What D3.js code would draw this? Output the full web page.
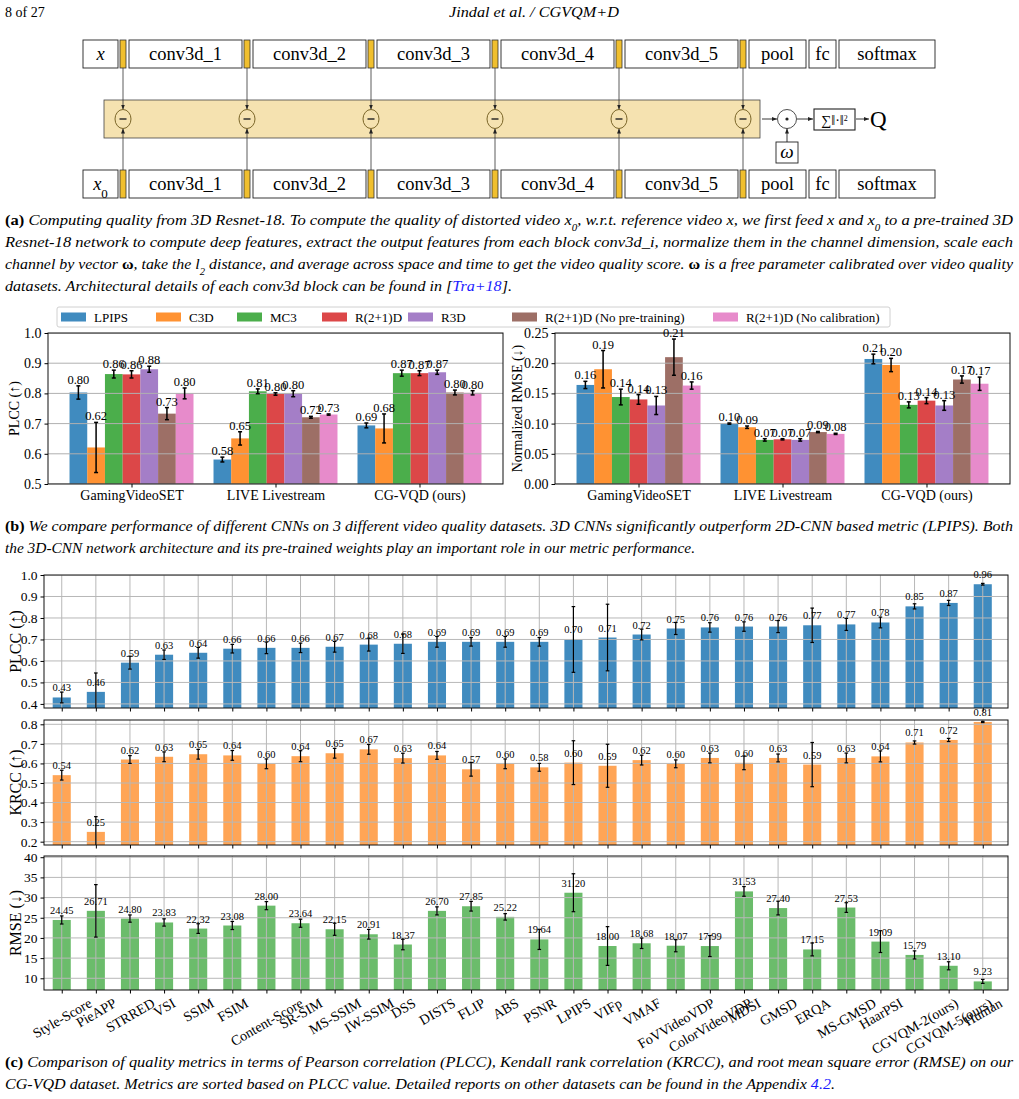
<!DOCTYPE html>
<html>
<head>
<meta charset="utf-8">
<script src="https://cdn.jsdelivr.net/npm/d3@7"></script>
<style>
  body { margin: 0; background: #fff; }
  svg { display: block; }
  text { font-family: "Liberation Serif", "Times New Roman", serif; fill: #000; }
</style>
</head>
<body>
<svg id="fig" width="1019" height="1099"></svg>
<script>
// ---- data: panel (a) diagram ----
const layerNames = ["x", "conv3d_1", "conv3d_2", "conv3d_3", "conv3d_4", "conv3d_5", "pool", "fc", "softmax"];

// ---- data: panel (b) ----
const models = ["LPIPS", "C3D", "MC3", "R(2+1)D", "R3D", "R(2+1)D (No pre-training)", "R(2+1)D (No calibration)"];
const datasets = ["GamingVideoSET", "LIVE Livestream", "CG-VQD (ours)"];
// rows = datasets, columns = models
const bPlcc = [
  [0.803, 0.621, 0.864, 0.863, 0.880, 0.733, 0.800],
  [0.581, 0.651, 0.807, 0.798, 0.799, 0.721, 0.730],
  [0.694, 0.684, 0.867, 0.867, 0.870, 0.803, 0.802]
];
const bPlccErr = [
  [0.022, 0.083, 0.013, 0.012, 0.010, 0.020, 0.018],
  [0.008, 0.022, 0.008, 0.004, 0.010, 0.003, 0.002],
  [0.008, 0.048, 0.010, 0.008, 0.007, 0.008, 0.007]
];
const bRmse = [
  [0.164, 0.190, 0.144, 0.140, 0.130, 0.210, 0.163],
  [0.100, 0.094, 0.073, 0.074, 0.073, 0.086, 0.083],
  [0.207, 0.197, 0.131, 0.138, 0.130, 0.173, 0.166]
];
const bRmseErr = [
  [0.006, 0.031, 0.013, 0.008, 0.015, 0.030, 0.006],
  [0.001, 0.002, 0.002, 0.001, 0.002, 0.001, 0.001],
  [0.008, 0.011, 0.005, 0.005, 0.008, 0.006, 0.011]
];
const bPlccTicks = [0.5, 0.6, 0.7, 0.8, 0.9, 1.0];
const bRmseTicks = [0.00, 0.05, 0.10, 0.15, 0.20, 0.25];

// ---- data: panel (c) ----
const metrics = ["Style-Score", "PieAPP", "STRRED", "VSI", "SSIM", "FSIM", "Content-Score", "SR-SIM", "MS-SSIM",
  "IW-SSIM", "DSS", "DISTS", "FLIP", "ABS", "PSNR", "LPIPS", "VIFp", "VMAF", "FoVVideoVDP", "ColorVideoVDP",
  "MDSI", "GMSD", "ERQA", "MS-GMSD", "HaarPSI", "CGVQM-2(ours)", "CGVQM-5(ours)", "Human"];
const plcc = [0.430, 0.456, 0.592, 0.629, 0.638, 0.657, 0.661, 0.661, 0.666, 0.676, 0.680, 0.689, 0.689, 0.689,
  0.689, 0.700, 0.709, 0.723, 0.751, 0.756, 0.760, 0.760, 0.766, 0.770, 0.779, 0.854, 0.870, 0.957];
const plccErr = [0.025, 0.088, 0.030, 0.022, 0.025, 0.020, 0.027, 0.022, 0.025, 0.030, 0.045, 0.025, 0.020, 0.025,
  0.020, 0.153, 0.155, 0.025, 0.028, 0.022, 0.022, 0.028, 0.080, 0.028, 0.025, 0.012, 0.012, 0.004];
const krcc = [0.540, 0.250, 0.620, 0.634, 0.647, 0.641, 0.598, 0.637, 0.652, 0.672, 0.627, 0.641, 0.570, 0.598,
  0.580, 0.604, 0.588, 0.617, 0.598, 0.628, 0.603, 0.628, 0.594, 0.628, 0.636, 0.707, 0.720, 0.812];
const krccErr = [0.025, 0.078, 0.020, 0.025, 0.025, 0.025, 0.025, 0.028, 0.025, 0.025, 0.025, 0.020, 0.035, 0.025,
  0.020, 0.112, 0.110, 0.025, 0.020, 0.025, 0.035, 0.020, 0.113, 0.025, 0.028, 0.008, 0.008, 0.003];
const rmse = [24.45, 26.71, 24.80, 23.83, 22.32, 23.08, 28.00, 23.64, 22.15, 20.91, 18.37, 26.70, 27.85, 25.22,
  19.64, 31.20, 18.00, 18.68, 18.07, 17.99, 31.53, 27.40, 17.15, 27.53, 19.09, 15.79, 13.10, 9.23];
const rmseErr = [1.0, 6.5, 0.9, 0.9, 1.2, 1.0, 1.0, 1.0, 1.5, 1.2, 1.3, 1.0, 1.2, 0.8,
  2.5, 4.7, 4.8, 1.3, 1.5, 2.6, 1.2, 1.7, 1.6, 1.2, 2.7, 1.0, 1.0, 0.5];
const plccTicks = [0.4, 0.5, 0.6, 0.7, 0.8, 0.9, 1.0];
const krccTicks = [0.2, 0.3, 0.4, 0.5, 0.6, 0.7, 0.8];
const rmseTicks = [10, 15, 20, 25, 30, 35, 40];

const tab10 = ["#1f77b4", "#ff7f0e", "#2ca02c", "#d62728", "#9467bd", "#8c564b", "#e377c2"];

const svg = d3.select("#fig");
const defs = svg.append("defs");
defs.append("marker").attr("id", "arr")
  .attr("viewBox", "0 0 10 10").attr("refX", 10).attr("refY", 5)
  .attr("markerUnits", "userSpaceOnUse").attr("markerWidth", 5).attr("markerHeight", 5)
  .attr("orient", "auto")
  .append("path").attr("d", "M0,1L10,5L0,9z").attr("fill", "#222");

// header
svg.append("text").attr("x", 5).attr("y", 17).style("font-size", "14px").text("8 of 27");
svg.append("text").attr("x", 449).attr("y", 17).style("font-size", "14px").style("font-style", "italic")
  .attr("textLength", 170).attr("lengthAdjust", "spacingAndGlyphs").text("Jindal et al. / CGVQM+D");

// ---- panel (a): network diagram ----
const layerW = [35, 113, 113, 113, 113, 113, 57, 27, 96];
const rowTops = [40, 170];
const boxH = 28;
const bandTop = 100, bandBot = 138, midY = 119;
let tapX = [];

svg.append("rect").attr("x", 104).attr("y", bandTop).attr("width", 656).attr("height", bandBot - bandTop)
  .attr("fill", "#f5e2b0").attr("stroke", "#444").attr("stroke-width", 0.8);

rowTops.forEach((top, r) => {
  let pos = 83;
  const taps = [];
  layerNames.forEach((name, i) => {
    const w = layerW[i];
    svg.append("rect").attr("x", pos).attr("y", top).attr("width", w).attr("height", boxH)
      .attr("fill", "#fff").attr("stroke", "#222").attr("stroke-width", 0.9);
    const t = svg.append("text").attr("x", pos + w / 2).attr("y", top + boxH / 2 + 6)
      .attr("text-anchor", "middle").style("font-size", "18.5px");
    if (name === "x") {
      t.append("tspan").style("font-style", "italic").text("x");
      if (r === 1) t.append("tspan").attr("baseline-shift", "sub").style("font-size", "13px").text("0");
    } else {
      t.text(name);
    }
    pos += w;
    if (i < 6) {
      pos += 2;
      svg.append("rect").attr("x", pos).attr("y", top).attr("width", 6).attr("height", boxH)
        .attr("fill", "#f0bf2e").attr("stroke", "#333").attr("stroke-width", 0.8);
      taps.push(pos + 3);
      pos += 9;
    } else {
      pos += 3;
    }
  });
  tapX = taps;
});

tapX.forEach(cx => {
  svg.append("line").attr("x1", cx).attr("x2", cx).attr("y1", rowTops[0] + boxH).attr("y2", midY - 9.5)
    .attr("stroke", "#333").attr("stroke-width", 0.8).attr("marker-end", "url(#arr)");
  svg.append("line").attr("x1", cx).attr("x2", cx).attr("y1", rowTops[1]).attr("y2", midY + 9.5)
    .attr("stroke", "#333").attr("stroke-width", 0.8).attr("marker-end", "url(#arr)");
  svg.append("ellipse").attr("cx", cx).attr("cy", midY).attr("rx", 8).attr("ry", 9.5)
    .attr("fill", "#f5e2b0").attr("stroke", "#7a6528").attr("stroke-width", 1);
  svg.append("line").attr("x1", cx - 3.5).attr("x2", cx + 3.5).attr("y1", midY).attr("y2", midY)
    .attr("stroke", "#222").attr("stroke-width", 1.4);
});

// weighting and aggregation
svg.append("line").attr("x1", 762).attr("x2", 777).attr("y1", midY).attr("y2", midY)
  .attr("stroke", "#222").attr("stroke-width", 0.9).attr("marker-end", "url(#arr)");
svg.append("circle").attr("cx", 787).attr("cy", midY).attr("r", 9.5)
  .attr("fill", "#fff").attr("stroke", "#222").attr("stroke-width", 0.8);
svg.append("circle").attr("cx", 787).attr("cy", midY).attr("r", 1.6).attr("fill", "#222");
svg.append("rect").attr("x", 776).attr("y", 142).attr("width", 22).attr("height", 21)
  .attr("fill", "#fff").attr("stroke", "#222").attr("stroke-width", 0.9);
svg.append("text").attr("x", 787).attr("y", 158).attr("text-anchor", "middle")
  .style("font-size", "19px").style("font-style", "italic").text("ω");
svg.append("line").attr("x1", 787).attr("x2", 787).attr("y1", 142).attr("y2", midY + 9.5)
  .attr("stroke", "#222").attr("stroke-width", 0.9).attr("marker-end", "url(#arr)");
svg.append("line").attr("x1", 797).attr("x2", 813).attr("y1", midY).attr("y2", midY)
  .attr("stroke", "#222").attr("stroke-width", 0.9).attr("marker-end", "url(#arr)");
svg.append("rect").attr("x", 814).attr("y", 109).attr("width", 41).attr("height", 21)
  .attr("fill", "#fff").attr("stroke", "#222").attr("stroke-width", 1.1);
const sumT = svg.append("text").attr("x", 834.5).attr("y", 125).attr("text-anchor", "middle").style("font-size", "14px");
sumT.append("tspan").text("∑‖·‖");
sumT.append("tspan").attr("baseline-shift", "super").style("font-size", "8px").text("2");
svg.append("line").attr("x1", 856).attr("x2", 869).attr("y1", midY).attr("y2", midY)
  .attr("stroke", "#222").attr("stroke-width", 0.9).attr("marker-end", "url(#arr)");
svg.append("text").attr("x", 870).attr("y", 127).style("font-size", "23px").text("Q");

// ---- captions ----
function caption(y, width, parts) {
  const t = svg.append("text").attr("x", 5).attr("y", y).style("font-size", "15px")
    .attr("textLength", width).attr("lengthAdjust", "spacingAndGlyphs");
  parts.forEach(p => {
    const s = t.append("tspan").text(p.t);
    if (p.b) s.style("font-weight", "bold").style("font-style", "normal");
    else s.style("font-style", "italic");
    if (p.sub) s.attr("baseline-shift", "sub").style("font-size", "10px");
    if (p.link) s.style("fill", "#1a1aff");
  });
}
caption(225, 1008, [{ t: "(a)", b: 1 }, { t: " Computing quality from 3D Resnet-18. To compute the quality of distorted video x" }, { t: "0", sub: 1 },
  { t: ", w.r.t. reference video x, we first feed x and x" }, { t: "0", sub: 1 }, { t: " to a pre-trained 3D" }]);
caption(247, 1008, [{ t: "Resnet-18 network to compute deep features, extract the output features from each block conv3d_i, normalize them in the channel dimension, scale each" }]);
caption(269, 1008, [{ t: "channel by vector " }, { t: "ω", b: 1 }, { t: ", take the l" }, { t: "2", sub: 1 },
  { t: " distance, and average across space and time to get the video quality score. " }, { t: "ω", b: 1 },
  { t: " is a free parameter calibrated over video quality" }]);
caption(291, 507, [{ t: "datasets. Architectural details of each conv3d block can be found in [" }, { t: "Tra+18", link: 1 }, { t: "]." }]);
caption(531, 1008, [{ t: "(b)", b: 1 }, { t: " We compare performance of different CNNs on 3 different video quality datasets. 3D CNNs significantly outperform 2D-CNN based metric (LPIPS). Both" }]);
caption(553, 690, [{ t: "the 3D-CNN network architecture and its pre-trained weights play an important role in our metric performance." }]);
caption(1067, 1008, [{ t: "(c)", b: 1 }, { t: " Comparison of quality metrics in terms of Pearson correlation (PLCC), Kendall rank correlation (KRCC), and root mean square error (RMSE) on our" }]);
caption(1089, 830, [{ t: "CG-VQD dataset. Metrics are sorted based on PLCC value. Detailed reports on other datasets can be found in the Appendix " }, { t: "4.2", link: 1 }, { t: "." }]);

// ---- panel (b): grouped bars ----
let clipId = 0;
function groupedPanel(o) {
  const x = d3.scaleLinear().domain([-0.58, 2.58]).range([o.left, o.right]);
  const y = d3.scaleLinear().domain(o.domain).range([o.bottom, o.top]);
  const bw = 0.123;
  const id = "clip" + (clipId++);
  svg.append("clipPath").attr("id", id).append("rect")
    .attr("x", o.left).attr("y", o.top).attr("width", o.right - o.left).attr("height", o.bottom - o.top);
  const g = svg.append("g");
  const plot = g.append("g").attr("clip-path", `url(#${id})`);
  const bars = [];
  datasets.forEach((ds, i) => models.forEach((m, j) => {
    bars.push({ cx: i + (j - 3) * bw, v: o.values[i][j], e: o.errs[i][j], c: tab10[j] });
  }));
  plot.selectAll(".bar").data(bars).enter().append("rect")
    .attr("x", d => x(d.cx - bw / 2)).attr("width", x(bw) - x(0))
    .attr("y", d => y(d.v)).attr("height", d => y(o.domain[0]) - y(d.v))
    .attr("fill", d => d.c).attr("fill-opacity", 0.85);
  plot.selectAll(".grid").data(o.ticks).enter().append("line")
    .attr("x1", o.left).attr("x2", o.right).attr("y1", d => y(d)).attr("y2", d => y(d))
    .attr("stroke", "#b0b0b0").attr("stroke-width", 1);
  const eb = plot.selectAll(".eb").data(bars).enter().append("g").attr("stroke", "#000").attr("stroke-width", 1.5);
  eb.append("line").attr("x1", d => x(d.cx)).attr("x2", d => x(d.cx)).attr("y1", d => y(d.v - d.e)).attr("y2", d => y(d.v + d.e));
  eb.append("line").attr("x1", d => x(d.cx) - 2).attr("x2", d => x(d.cx) + 2).attr("y1", d => y(d.v - d.e)).attr("y2", d => y(d.v - d.e));
  eb.append("line").attr("x1", d => x(d.cx) - 2).attr("x2", d => x(d.cx) + 2).attr("y1", d => y(d.v + d.e)).attr("y2", d => y(d.v + d.e));
  g.selectAll(".vl").data(bars).enter().append("text")
    .attr("x", d => x(d.cx)).attr("y", d => y(d.v + d.e) - 2).attr("text-anchor", "middle")
    .style("font-size", "12.5px").text(d => d.v.toFixed(2));
  g.append("rect").attr("x", o.left).attr("y", o.top).attr("width", o.right - o.left).attr("height", o.bottom - o.top)
    .attr("fill", "none").attr("stroke", "#111").attr("stroke-width", 1);
  const ya = g.append("g").attr("transform", `translate(${o.left},0)`)
    .call(d3.axisLeft(y).tickValues(o.ticks).tickFormat(d3.format(o.fmt)).tickSize(3.5).tickSizeOuter(0));
  const xa = g.append("g").attr("transform", `translate(0,${o.bottom})`)
    .call(d3.axisBottom(x).tickValues([0, 1, 2]).tickFormat(i => datasets[i]).tickSize(3.5).tickSizeOuter(0));
  [ya, xa].forEach(a => {
    a.select(".domain").remove();
    a.selectAll("line").attr("stroke", "#000");
    a.selectAll("text").style("font-family", "Liberation Serif, serif").style("font-size", "14px").attr("fill", "#000");
  });
  g.append("text").attr("transform", `translate(${o.ylx},${(o.top + o.bottom) / 2}) rotate(-90)`)
    .attr("text-anchor", "middle").attr("dy", "0.35em").style("font-size", "14px").text(o.ylabel);
}
groupedPanel({ left: 48, right: 503, top: 333, bottom: 484, domain: [0.5, 1.0], ticks: bPlccTicks, fmt: ".1f",
  values: bPlcc, errs: bPlccErr, ylabel: "PLCC (↑)", ylx: 14 });
groupedPanel({ left: 555, right: 1010, top: 333, bottom: 484, domain: [0, 0.25], ticks: bRmseTicks, fmt: ".2f",
  values: bRmse, errs: bRmseErr, ylabel: "Normalized RMSE (↓)", ylx: 517 });

// legend
const legX = [61, 156, 237, 322, 408, 512, 713];
svg.append("rect").attr("x", 57).attr("y", 307).attr("width", 833).attr("height", 20).attr("rx", 2)
  .attr("fill", "#fff").attr("stroke", "#d0d0d0").attr("stroke-width", 1);
models.forEach((m, j) => {
  svg.append("rect").attr("x", legX[j]).attr("y", 312.5).attr("width", 25).attr("height", 9)
    .attr("fill", tab10[j]).attr("fill-opacity", 0.85);
  svg.append("text").attr("x", legX[j] + 33).attr("y", 321.5).style("font-size", "13px").text(m);
});

// ---- panel (c): metric comparison ----
function metricPanel(o) {
  const x = d3.scaleLinear().domain([-0.52, 27.74]).range([44, 1008]);
  const y = d3.scaleLinear().domain(o.domain).range([o.bottom, o.top]);
  const bw = 0.53;
  const id = "clip" + (clipId++);
  svg.append("clipPath").attr("id", id).append("rect")
    .attr("x", 44).attr("y", o.top).attr("width", 964).attr("height", o.bottom - o.top);
  const g = svg.append("g");
  const plot = g.append("g").attr("clip-path", `url(#${id})`);
  const bars = metrics.map((m, i) => ({ i, v: o.values[i], e: o.errs[i] }));
  plot.selectAll(".bar").data(bars).enter().append("rect")
    .attr("x", d => x(d.i - bw / 2)).attr("width", x(bw) - x(0))
    .attr("y", d => y(d.v)).attr("height", d => y(o.domain[0]) - y(d.v))
    .attr("fill", o.color).attr("fill-opacity", o.alpha);
  plot.selectAll(".hg").data(o.ticks).enter().append("line")
    .attr("x1", 44).attr("x2", 1008).attr("y1", d => y(d)).attr("y2", d => y(d))
    .attr("stroke", "#b8b8b8").attr("stroke-width", 1);
  plot.selectAll(".vg").data(bars).enter().append("line")
    .attr("x1", d => x(d.i)).attr("x2", d => x(d.i)).attr("y1", o.top).attr("y2", o.bottom)
    .attr("stroke", "#b8b8b8").attr("stroke-width", 1);
  const eb = plot.selectAll(".eb").data(bars).enter().append("g").attr("stroke", "#000").attr("stroke-width", 1.2);
  eb.append("line").attr("x1", d => x(d.i)).attr("x2", d => x(d.i)).attr("y1", d => y(d.v - d.e)).attr("y2", d => y(d.v + d.e));
  eb.append("line").attr("x1", d => x(d.i) - 1.8).attr("x2", d => x(d.i) + 1.8).attr("y1", d => y(d.v - d.e)).attr("y2", d => y(d.v - d.e));
  eb.append("line").attr("x1", d => x(d.i) - 1.8).attr("x2", d => x(d.i) + 1.8).attr("y1", d => y(d.v + d.e)).attr("y2", d => y(d.v + d.e));
  g.selectAll(".vl").data(bars).enter().append("text")
    .attr("x", d => x(d.i)).attr("y", d => y(d.v) - 6).attr("text-anchor", "middle")
    .style("font-size", "10.5px").text(d => d.v.toFixed(2));
  g.append("rect").attr("x", 44).attr("y", o.top).attr("width", 964).attr("height", o.bottom - o.top)
    .attr("fill", "none").attr("stroke", "#111").attr("stroke-width", 1);
  const ya = g.append("g").attr("transform", "translate(44,0)")
    .call(d3.axisLeft(y).tickValues(o.ticks).tickFormat(d3.format(o.fmt)).tickSize(3.5).tickSizeOuter(0));
  const xa = g.append("g").attr("transform", `translate(0,${o.bottom})`)
    .call(d3.axisBottom(x).tickValues(d3.range(metrics.length)).tickFormat(i => o.xlabels ? metrics[i] : "")
      .tickSize(3.5).tickSizeOuter(0));
  [ya, xa].forEach(a => {
    a.select(".domain").remove();
    a.selectAll("line").attr("stroke", "#000");
    a.selectAll("text").style("font-family", "Liberation Serif, serif").style("font-size", "13.5px").attr("fill", "#000");
  });
  if (o.xlabels) {
    const sin = Math.sin(Math.PI / 6), cos = Math.cos(Math.PI / 6);
    xa.selectAll("text").style("font-size", "14px").each(function () {
      const w = this.getComputedTextLength();
      const bh = w * sin + 14 * cos;
      d3.select(this).attr("y", null).attr("dy", null).attr("text-anchor", "middle")
        .attr("dominant-baseline", "central")
        .attr("transform", `translate(0,${6 + bh / 2}) rotate(-30)`);
    });
  }
  g.append("text").attr("transform", `translate(15,${(o.top + o.bottom) / 2}) rotate(-90)`)
    .attr("text-anchor", "middle").attr("dy", "0.35em").style("font-size", "16px").text(o.ylabel);
}
metricPanel({ top: 575, bottom: 708, domain: [0.381, 1.0], ticks: plccTicks, fmt: ".1f", values: plcc, errs: plccErr,
  color: "#1f77b4", alpha: 0.85, ylabel: "PLCC (↑)" });
metricPanel({ top: 720, bottom: 845, domain: [0.183, 0.822], ticks: krccTicks, fmt: ".1f", values: krcc, errs: krccErr,
  color: "#ff7f0e", alpha: 0.7, ylabel: "KRCC (↑)" });
metricPanel({ top: 856, bottom: 990, domain: [7.1, 40.3], ticks: rmseTicks, fmt: "d", values: rmse, errs: rmseErr,
  color: "#2ca02c", alpha: 0.7, ylabel: "RMSE (↓)", xlabels: true });
</script>
</body>
</html>
